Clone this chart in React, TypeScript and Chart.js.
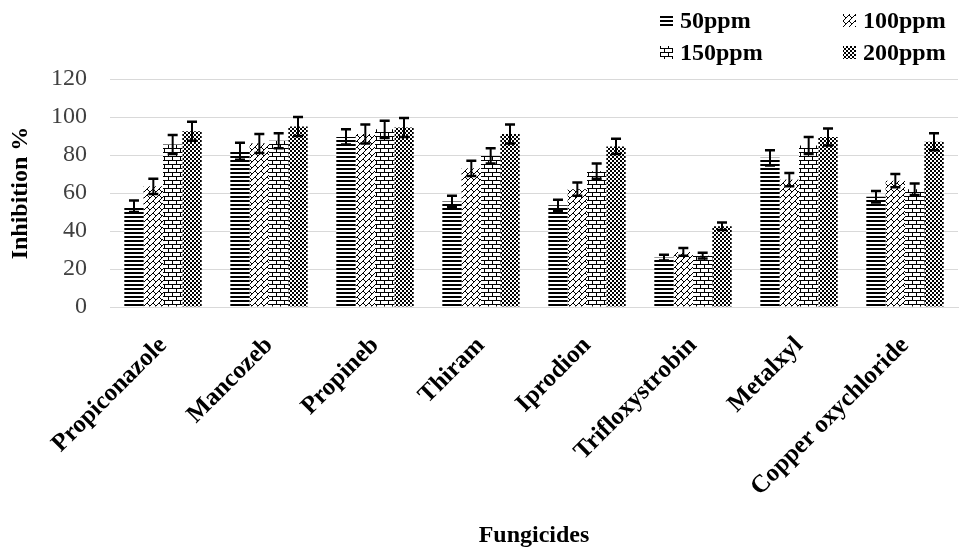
import React, { useEffect, useRef } from "react";
import { Chart, registerables } from "chart.js";

Chart.register(...registerables);

const categories = [
  "Propiconazole",
  "Mancozeb",
  "Propineb",
  "Thiram",
  "Iprodion",
  "Trifloxystrobin",
  "Metalxyl",
  "Copper oxychloride",
];
const seriesNames = ["50ppm", "100ppm", "150ppm", "200ppm"];
const v50 = [53, 82, 89.5, 55.5, 53.5, 26, 78.5, 58];
const v100 = [63.5, 86, 91, 73, 62, 29, 67, 66.5];
const v150 = [85.5, 87.5, 93.5, 79.5, 71.5, 27, 85, 62];
const v200 = [92.5, 95, 94.5, 91, 84.5, 42.5, 89.5, 87];
const e50 = [3, 4.5, 4, 3, 3, 1.5, 4, 3];
const e100 = [4, 5, 5, 4, 3.5, 2, 3.5, 3.5];
const e150 = [5, 4, 4.5, 4, 4, 1.5, 4.5, 3];
const e200 = [5, 5, 5, 5, 4, 2, 4.5, 4.5];
const yTicks = [0, 20, 40, 60, 80, 100, 120];

const FONT = '"Liberation Serif", "Times New Roman", serif';

function makeTile(w: number, h: number, draw: (c: CanvasRenderingContext2D) => void) {
  const cv = document.createElement("canvas");
  cv.width = w;
  cv.height = h;
  const c = cv.getContext("2d") as CanvasRenderingContext2D;
  c.fillStyle = "#ffffff";
  c.fillRect(0, 0, w, h);
  c.fillStyle = "#000000";
  c.strokeStyle = "#000000";
  draw(c);
  return cv;
}

function makePatterns(ctx: CanvasRenderingContext2D) {
  const t50 = makeTile(4, 4, (c) => {
    c.fillRect(0, 0, 4, 2);
  });
  const t100 = makeTile(12, 12, (c) => {
    c.lineWidth = 1;
    c.beginPath();
    for (const dx of [-12, 0, 12]) {
      for (const dy of [-12, 0, 12]) {
        c.moveTo(dx - 6, dy + 12);
        c.lineTo(dx + 6, dy + 0);
        c.moveTo(dx + 0, dy + 12);
        c.lineTo(dx + 12, dy + 0);
        c.moveTo(dx + 3, dy + 3);
        c.lineTo(dx + 6, dy + 6);
        c.moveTo(dx + 9, dy - 3);
        c.lineTo(dx + 12, dy + 0);
        c.moveTo(dx + 9, dy + 3);
        c.lineTo(dx + 12, dy + 6);
        c.moveTo(dx + 3, dy + 9);
        c.lineTo(dx + 6, dy + 12);
      }
    }
    c.stroke();
  });
  const t150 = makeTile(8, 8, (c) => {
    c.fillRect(0, 0, 8, 1);
    c.fillRect(0, 4, 8, 1);
    c.fillRect(0, 0, 1, 4);
    c.fillRect(4, 4, 1, 4);
  });
  const t200 = makeTile(4, 4, (c) => {
    c.fillRect(0, 0, 2, 2);
    c.fillRect(2, 2, 2, 2);
  });
  return [t50, t100, t150, t200].map((t) => ctx.createPattern(t, "repeat") as CanvasPattern);
}

export default function App() {
  const ref = useRef<HTMLCanvasElement | null>(null);

  useEffect(() => {
    const canvas = ref.current;
    if (!canvas) return;
    const ctx = canvas.getContext("2d") as CanvasRenderingContext2D;
    const patterns = makePatterns(ctx);
    const values = [v50, v100, v150, v200];
    const errors = [e50, e100, e150, e200];

    const errorBars = {
      id: "errorBars",
      afterDatasetsDraw(chart: any) {
        const c = chart.ctx;
        const ys = chart.scales.y;
        c.save();
        c.strokeStyle = "#000";
        chart.data.datasets.forEach((ds: any, i: number) => {
          const meta = chart.getDatasetMeta(i);
          meta.data.forEach((el: any, j: number) => {
            const v = values[i][j];
            const e = errors[i][j];
            const x = el.x;
            const yt = ys.getPixelForValue(v + e);
            const yb = ys.getPixelForValue(v - e);
            c.lineWidth = 2;
            c.beginPath();
            c.moveTo(x, yt);
            c.lineTo(x, yb);
            c.stroke();
            c.lineWidth = 2.5;
            c.beginPath();
            c.moveTo(x - 5, yt);
            c.lineTo(x + 5, yt);
            c.moveTo(x - 5, yb);
            c.lineTo(x + 5, yb);
            c.stroke();
          });
        });
        c.restore();
      },
    };

    const legendPos = [
      { x: 660, y: 21 },
      { x: 843, y: 21 },
      { x: 660, y: 53 },
      { x: 843, y: 53 },
    ];
    const customLegend = {
      id: "customLegend",
      afterDraw(chart: any) {
        const c = chart.ctx;
        c.save();
        seriesNames.forEach((name, i) => {
          const p = legendPos[i];
          c.fillStyle = patterns[i];
          c.fillRect(p.x, p.y - 7, 13, 13);
          c.fillStyle = "#000";
          c.font = `bold 24px ${FONT}`;
          c.textBaseline = "middle";
          c.textAlign = "left";
          c.fillText(name, p.x + 20, p.y + 1);
        });
        c.restore();
      },
    };

    const chart = new Chart(ctx, {
      type: "bar",
      data: {
        labels: categories,
        datasets: seriesNames.map((name, i) => ({
          label: name,
          data: values[i],
          backgroundColor: patterns[i],
          borderWidth: 0,
          categoryPercentage: 0.73,
          barPercentage: 1.0,
        })),
      },
      options: {
        responsive: false,
        animation: false,
        layout: { padding: { top: 79, left: 2, right: 2, bottom: 0 } },
        plugins: {
          legend: { display: false },
          tooltip: { enabled: false },
        },
        scales: {
          x: {
            grid: { display: false, drawTicks: false },
            border: { color: "#d9d9d9" },
            afterFit(scale: any) {
              scale.paddingLeft = 0;
              scale.paddingRight = 0;
              scale.height = 243;
            },
            ticks: {
              color: "#000",
              font: { family: FONT, size: 25, weight: "bold" },
              minRotation: 45,
              maxRotation: 45,
              padding: 24,
              autoSkip: false,
            },
            title: {
              display: true,
              text: "Fungicides",
              color: "#000",
              font: { family: FONT, size: 24, weight: "bold" },
              padding: { top: 18, bottom: 0 },
            },
          },
          y: {
            min: 0,
            max: 120,
            afterBuildTicks(scale: any) {
              scale.ticks = yTicks.map((v) => ({ value: v }));
            },
            afterFit(scale: any) {
              scale.width = 108;
            },
            grid: { color: "#d9d9d9", drawTicks: false },
            border: { display: false },
            ticks: {
              color: "#404040",
              font: { family: FONT, size: 24 },
              padding: 23,
            },
            title: {
              display: true,
              text: "Inhibition %",
              color: "#000",
              font: { family: FONT, size: 24, weight: "bold" },
              padding: { top: 4, bottom: 15 },
            },
          },
        },
      },
      plugins: [errorBars, customLegend],
    });
    return () => chart.destroy();
  }, []);

  return (
    <div style={{ position: "fixed", left: 0, top: 0, width: 960, height: 550, background: "#fff" }}>
      <canvas ref={ref} width={960} height={550} style={{ display: "block" }} />
    </div>
  );
}
